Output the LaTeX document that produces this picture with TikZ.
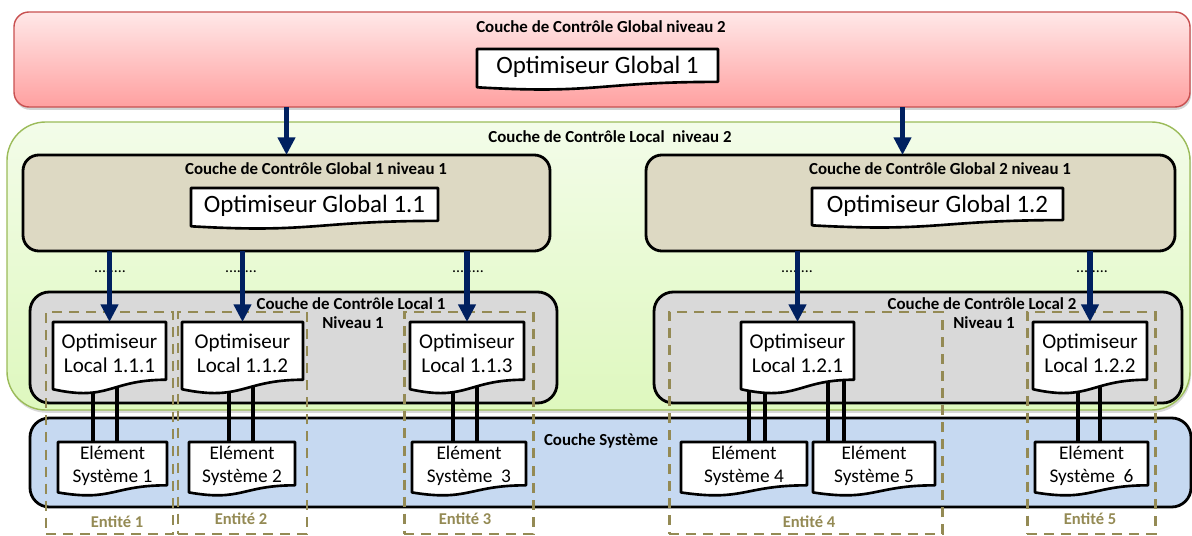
\documentclass[tikz,border=0pt]{standalone}
\usepackage{fontspec}
\setmainfont{Carlito}
\usetikzlibrary{arrows.meta,calc,shadows}
\pgfdeclarelayer{cont}
\pgfdeclarelayer{lines}
\pgfsetlayers{cont,lines,main}
\definecolor{navyarr}{RGB}{0,32,96}
\definecolor{entol}{RGB}{148,138,84}
\definecolor{tanfill}{RGB}{221,217,195}
\definecolor{grayfill}{RGB}{217,217,217}
\definecolor{bluefill}{RGB}{198,217,241}
\definecolor{redtop}{RGB}{255,232,232}
\definecolor{redbot}{RGB}{255,160,160}
\definecolor{redline}{RGB}{200,80,80}
\definecolor{greentop}{RGB}{243,252,233}
\definecolor{greenbot}{RGB}{222,248,190}
\definecolor{greenline}{RGB}{155,187,89}
\newcommand\cont[6][]{%
  \node[#1, minimum width={(#5-#3)*0.02cm}, minimum height={(#6-#4)*0.02cm}] (#2) at ({(#3+#5)/2},{(#4+#6)/2}) {};}
\newcommand\docbox[7]{%
  \path[docshape] (#3,#4) -- (#5,#4) -- (#5,{#4+0.802*#6}) .. controls ({(#3+#5)/2},{#4+0.802*#6}) and ({(#3+#5)/2},{#4+1.1075*#6}) .. (#3,{#4+0.934*#6}) -- cycle;
  \node[#1, minimum width={(#5-#3)*0.02cm}, minimum height={0.87*#6*0.02cm}, anchor=north] (#2) at ({(#3+#5)/2},#4) {#7};}
\begin{document}
\begin{tikzpicture}[x=0.02cm,y=-0.02cm,
  box/.style={inner sep=0, outer sep=0},
  redbox/.style={box, rounded corners=8.5pt, top color=redtop, bottom color=redbot, draw=redline, line width=0.8pt,
    drop shadow={shadow xshift=0.6pt, shadow yshift=-1.6pt, opacity=0.35}},
  greenbox/.style={box, rounded corners=22pt, top color=greentop, bottom color=greenbot, draw=greenline, line width=0.8pt,
    drop shadow={shadow xshift=0.6pt, shadow yshift=-1.6pt, opacity=0.3}},
  tanbox/.style={box, rounded corners=9pt, fill=tanfill, draw=black, line width=1.6pt},
  graybox/.style={box, rounded corners=11pt, fill=grayfill, draw=black, line width=1.6pt},
  bluebox/.style={box, rounded corners=11pt, fill=bluefill, draw=black, line width=1.6pt},
  entbox/.style={box, draw=entol, line width=1.7pt, dash pattern=on 5.7pt off 4pt},
  docshape/.style={draw=black, line width=1.5pt, fill=white, line join=round},
  gopt/.style={inner sep=0, font=\fontsize{14.2}{17}\selectfont},
  lopt/.style={inner sep=0, align=center, font=\fontsize{12}{13.6}\selectfont},
  elem/.style={inner sep=0, align=center, font=\fontsize{11}{13.4}\selectfont},
  title/.style={inner sep=0, font=\fontsize{9.6}{11.5}\selectfont\bfseries},
  entlab/.style={inner sep=0, text=entol, font=\fontsize{9.4}{11}\selectfont\bfseries},
  dots/.style={inner sep=0, font=\fontsize{9}{10}\selectfont},
  arr/.style={draw=navyarr, line width=3.1pt, -{Triangle[width=9.6pt,length=10pt]}},
  dbl/.style={draw=black, line width=2.2pt}]
\useasboundingbox (0,0) rectangle (1192,536);
\begin{pgfonlayer}{cont}
  \cont[redbox]{red}{14}{12}{1190}{107}
  \cont[greenbox]{green}{7}{122}{1190}{410}
  \cont[tanbox]{tanL}{23}{155}{550}{251}
  \cont[tanbox]{tanR}{646}{155}{1175}{251}
  \cont[graybox]{grayL}{30}{292}{557}{403}
  \cont[graybox]{grayR}{654}{292}{1182}{403}
  \cont[bluebox]{sys}{30}{418}{1191}{507}
  \cont[entbox]{e1}{46}{312}{173}{534}
  \cont[entbox]{e2}{178}{312}{307}{534}
  \cont[entbox]{e3}{404}{312}{533}{534}
  \cont[entbox]{e4}{669}{312}{942}{534}
  \cont[entbox]{e5}{1027}{312}{1155}{534}
\end{pgfonlayer}
% titles
\node[title] (t0) at (601,27) {Couche de Contrôle Global niveau 2};
\node[title] (t1) at (610,137) {Couche de Contrôle Local~ niveau 2};
\node[title] (t11) at (316,169) {Couche de Contrôle Global 1 niveau 1};
\node[title] (t12) at (940,169) {Couche de Contrôle Global 2 niveau 1};
\node[title] (tl1) at (351,304) {Couche de Contrôle Local 1};
\node[title] (nl1) at (353,323) {Niveau 1};
\node[title] (tl2) at (982,304) {Couche de Contrôle Local 2};
\node[title] (nl2) at (984,323) {Niveau 1};
\node[title] (ts) at (601,441) {Couche Système};
\node[entlab] (le1) at (117,522) {Entité 1};
\node[entlab] (le2) at (241,519) {Entité 2};
\node[entlab] (le3) at (465,519) {Entité 3};
\node[entlab] (le4) at (809,522) {Entité 4};
\node[entlab] (le5) at (1090,519) {Entité 5};
% document boxes
\docbox{gopt}{g1}{477}{49}{718}{41}{Optimiseur Global 1}
\docbox{gopt}{g11}{191}{188}{438}{41}{Optimiseur Global 1.1}
\docbox{gopt}{g12}{812}{188}{1063}{40}{Optimiseur Global 1.2}
\docbox{lopt}{o111}{53}{322}{166}{72}{Optimiseur\\Local 1.1.1}
\docbox{lopt}{o112}{182}{322}{303}{72}{Optimiseur\\Local 1.1.2}
\docbox{lopt}{o113}{410}{322}{524}{72}{Optimiseur\\Local 1.1.3}
\docbox{lopt}{o121}{741}{322}{854}{72}{Optimiseur\\Local 1.2.1}
\docbox{lopt}{o122}{1033}{322}{1147}{72}{Optimiseur\\Local 1.2.2}
\docbox{elem}{es1}{58}{442}{167}{54}{Elément\\Système 1}
\docbox{elem}{es2}{189}{442}{295}{54}{Elément\\Système 2}
\docbox{elem}{es3}{412}{442}{526}{54}{Elément\\Système~ 3}
\docbox{elem}{es4}{681}{442}{807}{54}{Elément\\Système 4}
\docbox{elem}{es5}{813}{442}{935}{54}{Elément\\Système 5}
\docbox{elem}{es6}{1035}{442}{1148}{54}{Elément\\Système~ 6}
% double connectors
\begin{pgfonlayer}{lines}
  \draw[dbl] ($(o111.center)+(-16.5,0)$) -- ($(es1.north)+(-19.5,0)$);
  \draw[dbl] ($(o111.center)+(7.5,0)$) -- ($(es1.north)+(4.5,0)$);
  \draw[dbl] ($(o112.center)+(-13.5,0)$) -- ($(es2.north)+(-13,0)$);
  \draw[dbl] ($(o112.center)+(10.5,0)$) -- ($(es2.north)+(11,0)$);
  \draw[dbl] ($(o113.center)+(-14,0)$) -- ($(es3.north)+(-16,0)$);
  \draw[dbl] ($(o113.center)+(10,0)$) -- ($(es3.north)+(8,0)$);
  \draw[dbl] ($(o121.center)+(-48.5,0)$) -- ($(es4.north)+(5,0)$);
  \draw[dbl] ($(o121.center)+(-32.5,0)$) -- ($(es4.north)+(21,0)$);
  \draw[dbl] ($(o121.center)+(30.5,0)$) -- ($(es5.north)+(-46,0)$);
  \draw[dbl] ($(o121.center)+(46.5,0)$) -- ($(es5.north)+(-30,0)$);
  \draw[dbl] ($(o122.center)+(-12,0)$) -- ($(es6.north)+(-13.5,0)$);
  \draw[dbl] ($(o122.center)+(10,0)$) -- ($(es6.north)+(8.5,0)$);
\end{pgfonlayer}
% dots
\node[dots] (d1) at (110,272) {........};
\node[dots] (d2) at (241,272) {........};
\node[dots] (d3) at (468,272) {........};
\node[dots] (d4) at (797,272) {........};
\node[dots] (d5) at (1092,272) {........};
% arrows
\draw[arr] (red.south -| tanL.north) -- (tanL.north);
\draw[arr] ($(red.south -| tanR.north)+(-8,0)$) -- ($(tanR.north)+(-8,0)$);
\draw[arr] (tanL.south -| o111.north) -- (o111.north);
\draw[arr] (tanL.south -| o112.north) -- (o112.north);
\draw[arr] (tanL.south -| o113.north) -- (o113.north);
\draw[arr] (tanR.south -| o121.north) -- (o121.north);
\draw[arr] (tanR.south -| o122.north) -- (o122.north);
\end{tikzpicture}
\end{document}
